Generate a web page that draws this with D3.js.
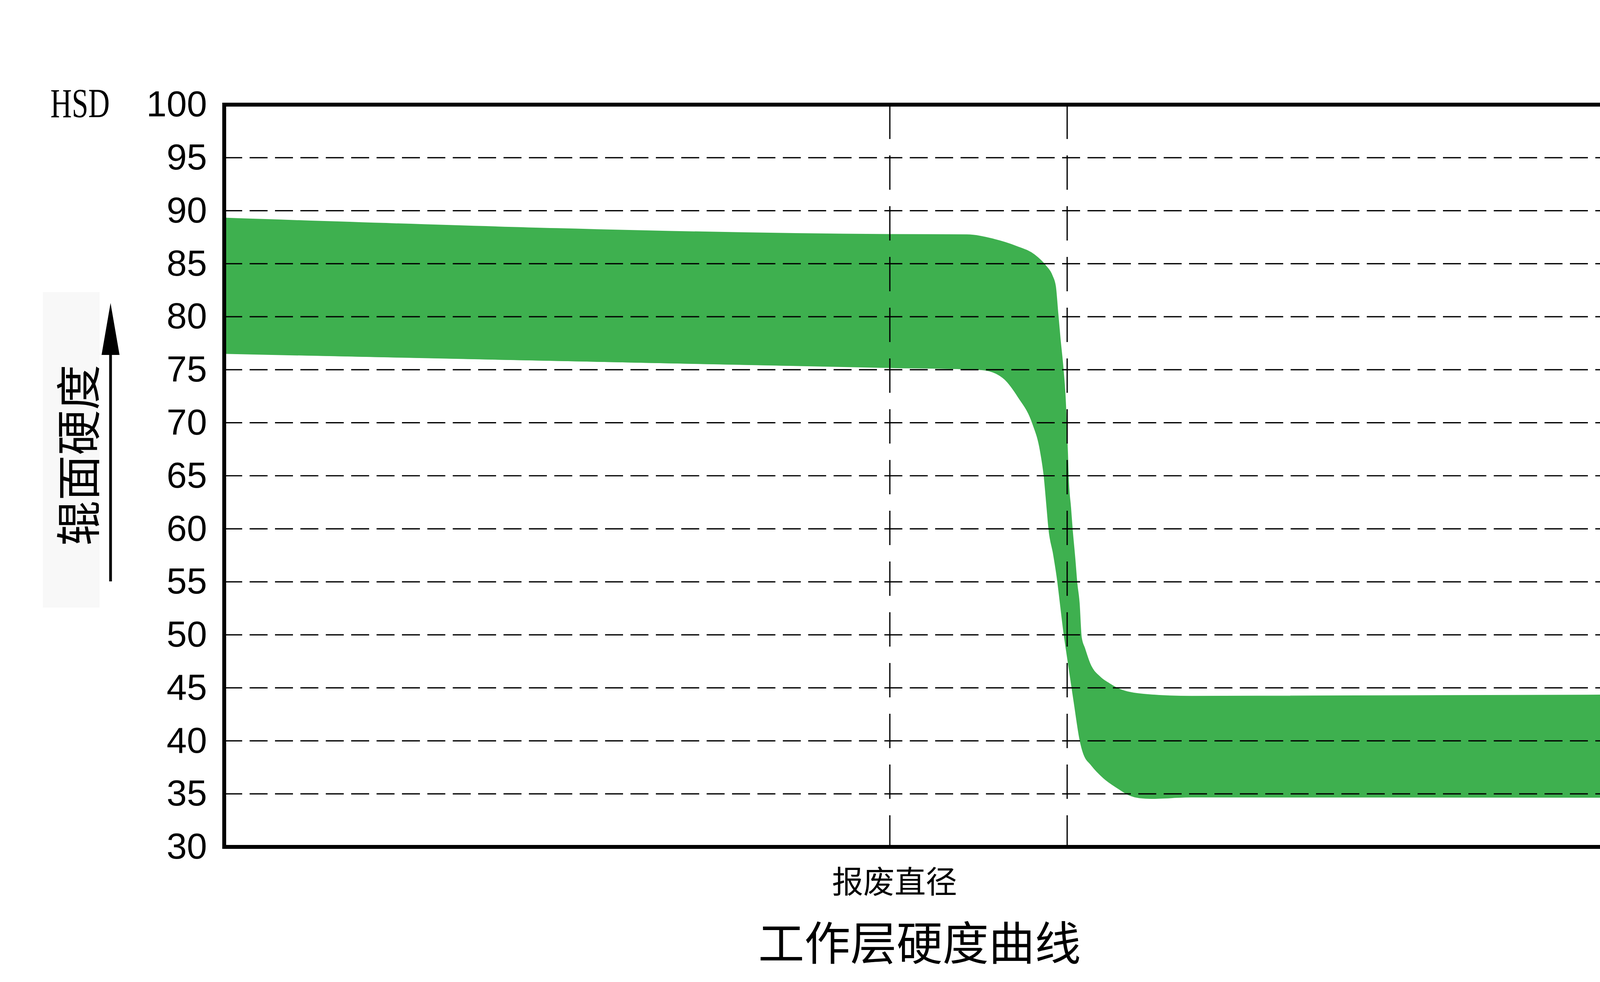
<!DOCTYPE html>
<html>
<head>
<meta charset="utf-8">
<script src="https://cdn.jsdelivr.net/npm/d3@7"></script>
<style>
  body { margin: 0; background: #fff; overflow: hidden; }
  svg { display: block; }
</style>
</head>
<body>
<div class="viz-hardness"></div>
<script>
// Canvas size
var w = 4548;
var h = 2515;

// Y axis ticks (HSD)
var yTicks = [30,35,40,45,50,55,60,65,70,75,80,85,90,95,100];
var gridTicks = [35,40,45,50,55,60,65,70,75,80,85,90,95];

// Position along the roll radius (0 = left frame, 100 = right frame)
var upperX = [0, 45.72, 51.01, 52.86, 54.41, 55.65, 56.40, 56.88, 57.10, 57.26, 57.42, 57.63, 57.77, 57.85, 57.93, 57.98,
              58.14, 58.25, 58.44, 58.57, 58.73, 58.87, 59.11, 59.46, 60.18, 60.80, 61.45, 63.16, 66.43, 100];
// Upper hardness limit
var upperY = [89.3, 87.76, 87.73, 87.31, 86.64, 85.84, 84.85, 83.85, 82.85, 80.39, 77.92, 75.0, 72.4, 70.0, 67.1, 64.9,
              62.0, 60.0, 57.1, 54.9, 53.0, 49.8, 48.7, 47.3, 46.0, 45.4, 44.9, 44.4, 44.2, 44.35];

var lowerX = [0, 45.72, 51.01, 52.24, 53.02, 53.61, 54.55, 55.51, 56.05, 56.32, 56.51, 56.64, 56.96, 57.26, 57.39, 57.71,
              57.85, 58.12, 58.38, 58.79, 59.00, 59.57, 60.40, 61.42, 62.14, 62.87, 63.67, 66.43, 100];
// Lower hardness limit
var lowerY = [76.53, 75.2, 75.07, 74.97, 74.65, 74.1, 72.4, 70.0, 67.4, 64.9, 62.0, 60.0, 57.6, 54.9, 53.4, 49.8,
              48.5, 46.0, 43.6, 40.0, 38.9, 37.7, 36.5, 35.5, 34.9, 34.63, 34.57, 34.7, 34.67];

// Dashed verticals: scrap diameter and end of working layer
var markX = [45.72, 57.90];

// Texts
var yUnit = 'HSD';
var yTitle = '辊面硬度';
var markLabel = '报废直径';
var chartTitle = '工作层硬度曲线';

// Plot box (window.top is read-only, so use own names)
var boxL = 574, boxR = 4301, boxT = 268, boxB = 2169;

var svg = d3.select('.viz-hardness')
            .append('svg')
            .attr('width', w)
            .attr('height', h);

var x = d3.scaleLinear().domain([0, 100]).range([boxL, boxR]);
var y = d3.scaleLinear().domain([30, 100]).range([boxB, boxT]);

// Build the band: upper edge forward, lower edge backward
var upper = upperX.map(function(d, i) { return [d, upperY[i]]; });
var lower = lowerX.map(function(d, i) { return [d, lowerY[i]]; }).reverse();

var edge = d3.line()
             .x(function(d) { return x(d[0]); })
             .y(function(d) { return y(d[1]); })
             .curve(d3.curveMonotoneX);

svg.append('path')
   .attr('d', edge(upper) + edge(lower).replace(/^M/, 'L') + 'Z')
   .attr('fill', '#3eb04f')
   .attr('stroke', '#3eb04f')
   .attr('stroke-width', 2);

// Horizontal dashed grid
svg.append('g')
   .selectAll('line')
   .data(gridTicks)
   .enter().append('line')
   .attr('x1', boxL)
   .attr('x2', boxR)
   .attr('y1', function(d) { return y(d); })
   .attr('y2', function(d) { return y(d); })
   .attr('stroke', '#000')
   .attr('stroke-width', 3.2)
   .attr('stroke-dasharray', '46,19');

// Vertical dashed markers
svg.append('g')
   .selectAll('line')
   .data(markX)
   .enter().append('line')
   .attr('x1', function(d) { return x(d); })
   .attr('x2', function(d) { return x(d); })
   .attr('y1', boxT)
   .attr('y2', boxB)
   .attr('stroke', '#000')
   .attr('stroke-width', 3.2)
   .attr('stroke-dasharray', '88,42');

// Frame
svg.append('rect')
   .attr('x', boxL)
   .attr('y', boxT)
   .attr('width', boxR - boxL)
   .attr('height', boxB - boxT)
   .attr('fill', 'none')
   .attr('stroke', '#000')
   .attr('stroke-width', 10);

// Y axis labels
var yAxis = svg.append('g')
               .attr('transform', 'translate(' + boxL + ',0)')
               .call(d3.axisLeft(y).tickValues(yTicks).tickSize(0).tickPadding(44).tickFormat(d3.format('d')));
yAxis.select('.domain').remove();
yAxis.selectAll('text')
     .attr('font-family', '"Liberation Sans", Arial, sans-serif')
     .attr('font-size', 93)
     .attr('fill', '#000');

// HSD unit
svg.append('text')
   .attr('x', 129)
   .attr('y', 300)
   .attr('textLength', 152)
   .attr('lengthAdjust', 'spacingAndGlyphs')
   .attr('font-family', '"Liberation Serif", "DejaVu Serif", serif')
   .attr('font-size', 106)
   .text(yUnit);

// Y title block with arrow
svg.append('rect')
   .attr('x', 110)
   .attr('y', 748)
   .attr('width', 145)
   .attr('height', 808)
   .attr('fill', '#f8f8f8');

svg.append('text')
   .attr('transform', 'translate(193,1166) rotate(-90)')
   .attr('text-anchor', 'middle')
   .attr('dominant-baseline', 'central')
   .attr('font-family', '"Noto Sans CJK SC", sans-serif')
   .attr('font-size', 116)
   .text(yTitle);

svg.append('rect')
   .attr('x', 279.5)
   .attr('y', 900)
   .attr('width', 7)
   .attr('height', 589);

svg.append('path')
   .attr('d', 'M283,776 L306,909 L260,909 Z')
   .attr('fill', '#000');

// Label under the scrap diameter line
svg.append('text')
   .attr('x', x(markX[0]) + 12)
   .attr('y', 2252)
   .attr('text-anchor', 'middle')
   .attr('dominant-baseline', 'central')
   .attr('font-family', '"Noto Sans CJK SC", sans-serif')
   .attr('font-size', 80)
   .text(markLabel);

// Chart title
svg.append('text')
   .attr('x', 2354)
   .attr('y', 2407)
   .attr('text-anchor', 'middle')
   .attr('dominant-baseline', 'central')
   .attr('font-family', '"Noto Sans CJK SC", sans-serif')
   .attr('font-size', 118)
   .text(chartTitle);
</script>
</body>
</html>
